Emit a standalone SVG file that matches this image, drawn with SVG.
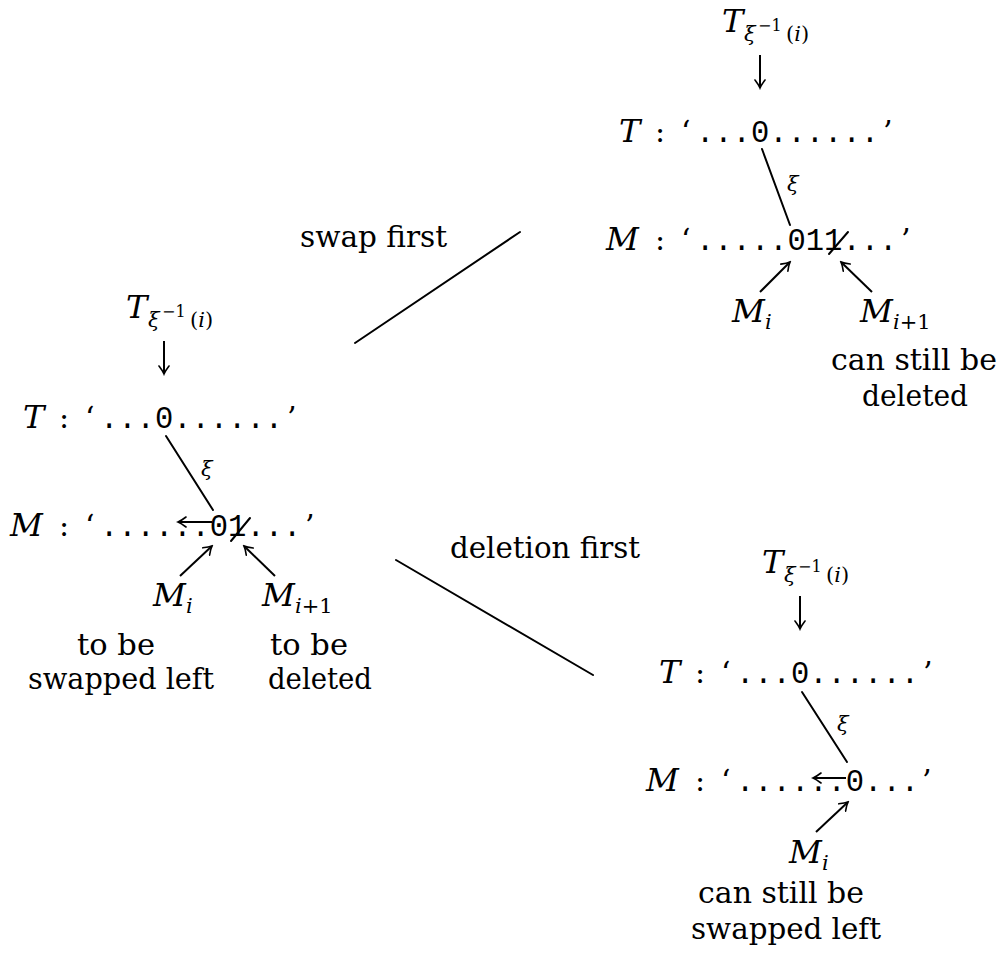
<svg xmlns="http://www.w3.org/2000/svg" width="1004" height="954" viewBox="0 0 1004 954" font-family="'DejaVu Serif', 'Liberation Serif', serif">
<style>
.rm{font-family:'DejaVu Serif','Liberation Serif',serif;font-size:30px}
.mi{font-family:'DejaVu Serif','Liberation Serif',serif;font-size:32px;font-style:italic}
.sb{font-family:'DejaVu Serif','Liberation Serif',serif;font-size:21px;font-style:italic}
.ss{font-family:'DejaVu Serif','Liberation Serif',serif;font-size:21px}
.sp{font-family:'DejaVu Serif','Liberation Serif',serif;font-size:16px}
.tt{font-family:'Liberation Mono','DejaVu Sans Mono',monospace;font-size:30.5px}
.ln{stroke:#000;stroke-width:2;fill:none;stroke-linecap:round}
.ar{stroke:#000;stroke-width:2;fill:none;marker-end:url(#tip)}
</style>
<defs>
<marker id="tip" viewBox="-9 -6 11 12" markerWidth="11" markerHeight="12" refX="0" refY="0" orient="auto" markerUnits="userSpaceOnUse">
<path d="M-8,-5 Q-3,-1.2 0,0 Q-3,1.2 -8,5" stroke="#000" stroke-width="1.6" fill="none" stroke-linecap="round"/>
</marker>
<g id="thead">
<text class="mi" x="722" y="32">T</text>
<text class="sb" x="744" y="41">ξ</text>
<text class="sp" x="758" y="31">−1</text>
<text class="ss" x="786" y="41">(<tspan font-style="italic">i</tspan>)</text>
<path class="ar" d="M760,55 V88"/>
<text class="mi" x="619" y="142">T</text>
<text class="rm" x="655" y="142">:</text>
<text class="rm" x="681" y="142">‘</text>
<text class="tt" x="696" y="142">...0......</text>
<text class="rm" x="883" y="142">’</text>
<text class="mi" x="606" y="250">M</text>
<text class="rm" x="655" y="250">:</text>
<text class="rm" x="681" y="250">‘</text>
</g>
</defs>

<g id="connectors">
<path class="ln" d="M355,343 L520,232"/>
<path class="ln" d="M396,560 L593,675"/>
<text class="rm" x="300" y="247" textLength="147" lengthAdjust="spacingAndGlyphs">swap first</text>
<text class="rm" x="450" y="558" textLength="190" lengthAdjust="spacingAndGlyphs">deletion first</text>
</g>

<g id="panel-swap-first">
<use href="#thead"/>
<text class="tt" x="696" y="250">.....011...</text>
<text class="rm" x="901" y="250">’</text>
<path class="ln" d="M829,254 L848,232"/>
<path class="ln" d="M762,149 L790,225"/>
<text class="sb" x="787" y="191">ξ</text>
<path class="ar" d="M760,292 L790,262"/>
<path class="ar" d="M872,292 L841,262"/>
<text class="mi" x="732" y="322">M</text><text class="sb" x="765" y="329">i</text>
<text class="mi" x="860" y="322">M</text><text class="ss" x="893" y="329"><tspan font-style="italic">i</tspan>+1</text>
<text class="rm" x="914" y="370" text-anchor="middle" textLength="166" lengthAdjust="spacingAndGlyphs">can still be</text>
<text class="rm" x="915" y="406" text-anchor="middle" textLength="106" lengthAdjust="spacingAndGlyphs">deleted</text>
</g>

<g id="panel-initial" transform="translate(-596,286)">
<use href="#thead"/>
<text class="tt" x="696" y="250">......01...</text>
<text class="rm" x="901" y="250">’</text>
<path class="ln" d="M827,255 L846,232"/>
<path class="ar" d="M808,236 L774,236"/>
<path class="ln" d="M762,150 L809,224"/>
<text class="sb" x="797" y="190">ξ</text>
<path class="ar" d="M776,290 L808,260"/>
<path class="ar" d="M871,290 L840,260"/>
<text class="mi" x="749" y="320">M</text><text class="sb" x="782" y="327">i</text>
<text class="mi" x="858" y="320">M</text><text class="ss" x="891" y="327"><tspan font-style="italic">i</tspan>+1</text>
<text class="rm" x="712" y="369" text-anchor="middle" textLength="78" lengthAdjust="spacingAndGlyphs">to be</text>
<text class="rm" x="717" y="403" text-anchor="middle" textLength="186" lengthAdjust="spacingAndGlyphs">swapped left</text>
<text class="rm" x="905" y="369" text-anchor="middle" textLength="78" lengthAdjust="spacingAndGlyphs">to be</text>
<text class="rm" x="916" y="403" text-anchor="middle" textLength="104" lengthAdjust="spacingAndGlyphs">deleted</text>
</g>

<g id="panel-deletion-first" transform="translate(40,541)">
<use href="#thead"/>
<text class="tt" x="696" y="250">......0...</text>
<text class="rm" x="882" y="250">’</text>
<path class="ar" d="M806,237 L773,237"/>
<path class="ln" d="M762,151 L807,221"/>
<text class="sb" x="797" y="190">ξ</text>
<path class="ar" d="M776,291 L808,261"/>
<text class="mi" x="749" y="322">M</text><text class="sb" x="782" y="329">i</text>
<text class="rm" x="741" y="362" text-anchor="middle" textLength="166" lengthAdjust="spacingAndGlyphs">can still be</text>
<text class="rm" x="746" y="398" text-anchor="middle" textLength="190" lengthAdjust="spacingAndGlyphs">swapped left</text>
</g>
</svg>
